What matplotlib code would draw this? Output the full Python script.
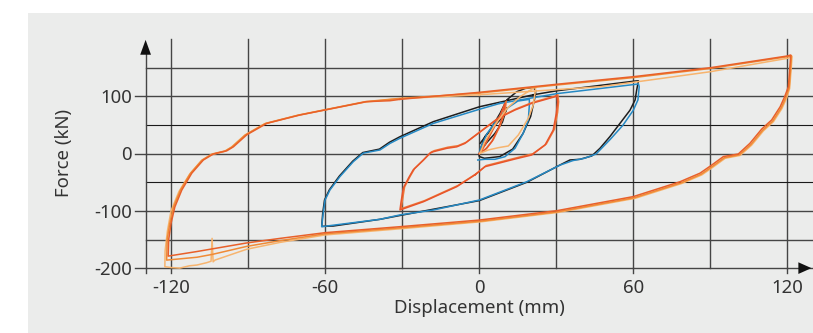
import matplotlib
matplotlib.use("Agg")
import matplotlib.pyplot as plt
from matplotlib.patches import Polygon

plt.rcParams['font.family'] = ['Noto Sans', 'DejaVu Sans']
NA = float('nan')  # gap between separate cycles of one test

# ---------------- data (displacement mm, force kN) ----------------
x_ticks = [-120, -60, 0, 60, 120]
y_ticks = [100, 0, -100, -200]
x_grid = [-120, -90, -60, -30, 0, 30, 60, 90, 120]
y_grid = [150, 100, 50, 0, -50, -100, -150]

# large +-120 mm loops (three cycles)
big1_x = [-30.9, 0, 30, 60, 90, 120, 121.3, 121.2, 120.8, 120.4, 119, 117.2, 113.9, 110, 105.4,
          100.9, 95.1, 90.5, 86, 78.2, 60, 30.2, 0, -30.9, -60, -77.6, -90.6, -110, -121.2,
          -121, -120.1, -118.6, -115.9, -112, -107.5, -103.6, -98.4, -95.8, -90.6, -82.8,
          -69.9, -56.9, -43.9, -34.8, -30.9]
big1_y = [95, 107.3, 121.3, 134.6, 150.3, 170.8, 172.5, 164, 140, 117, 100, 82, 59, 43, 18,
          -0.5, -5, -20, -34, -49, -75, -99.6, -116, -127.6, -138, -148, -156, -171, -179,
          -150, -122, -93, -63.5, -34, -11, -0.5, 5, 12, 33, 53,
          67.6, 79.3, 91, 92.6, 95]

big2_x = [0, 30, 60, 90, 120, 121.6, 121.5, 121.1, 120.7, 119.4, 117.6, 114.3, 110.4, 105.8,
          101.3, 95.5, 90.9, 86.4, 78.6, 60.4, 30.6, 0.4, -30.5, -60, -77.6, -90.6, -104, -110,
          -121.8, -121.6, -120.6, -119.1, -116.4, -112.5, -108, -104.1, -98.9, -96.3, -91.1,
          -83.3, -70.4, -57.4, -44.4, -31.4, 0]
big2_y = [106, 120, 133, 149, 169.5, 171.5, 162, 138, 115, 98, 80, 57, 41, 16,
          -2, -7, -22, -36, -51, -77, -101.5, -118, -129.5, -140, -152, -162, -176, -181,
          -186, -150, -122, -93, -63.5, -34, -11, -0.5, 5, 12, 33,
          53, 67.6, 79.3, 91, 96.5, 106]

big3_x = [0.3, 3.5, 7.4, 11.3, 15.2, 19.1, 21, 21.7, 22, 16, 11, 6, 2, 0.3, NA,
          0, 30, 47, 60, 90, 120, 121.8, 121.7, 121.3,
          120.9, 119.7, 117.9, 114.6, 110.7, 106.1, 101.6, 95.8, 91.2, 86.7, 78.9, 60.7, 30.9,
          0.7, -30.2, -60, -77.6, -90.6, -103, -103.7, -104.1, -104.5, -106.2, -110, -113,
          -116.7, -120, -122.5, -122.4, -121.5, -120.1, -117, -113, -108.4, -104.5, -99.3,
          -96.7, -91.5, -83.7, -70.8, -57.8, -44.8, -31.8, 0]
big3_y = [0.7, 6.5, 10.5, 13.5, 32.7, 62, 85, 105.6, 117, 100, 80, 50, 20, 0.7, NA,
          103, 112, 117, 124.8, 143.3, 166.7, 170, 161,
          137, 114, 97, 79, 56, 40, 15, -3, -8, -23, -37, -52, -78, -102.5, -119, -131,
          -142, -155, -167, -186, -189, -148, -188, -190.5, -194.6, -196, -200, -199, -197.5,
          -170, -135, -100, -66, -37, -13, -2, 4, 11, 32, 52, 67, 78.5, 90, 96, 103]

# +-60 mm loops
blue_x = [0, 0.5, 3, 7, 11, 15, 19.5, 19.5, 19.1, 17.1, 13.9, 10, 6.1, 2.2, -0.6, NA,
          8.1, 30.2, 60.4, 62, 62.3, 61.8, 60, 56, 51, 45.5, 41, 36.5, 31.4, 18.5, 0, -17.9,
          -30.9, -38.7, -56.9, -61.4, -60.8, -60.1, -58.2, -54.3, -49.1, -45.2, -38.7, -34.8,
          -30.9, -17.9, 0, 8.1]
blue_y = [0, 10, 35, 60, 80, 92, 95, 85, 59, 35.7, 9.4, -5.2, -9.8, -9.8, -11, NA,
          88, 105, 121, 122, 117, 94, 76, 50, 25, -0.5, -8, -12, -20, -49, -81, -98.4,
          -107, -114.7, -125, -127.6, -104, -81, -63.5, -40, -14, 1, 6.5, 18,
          27, 53, 77.6, 88]

black_x = [0, 0.2, 2.2, 6.1, 9.4, 10.7, 9, 6, 3, 0.5, 0, NA,
           0.3, 4.2, 8.1, 10.7, 14.6, 17.8, 21, 22, 21.5, 20, 17, 13, 8, 2, 0, NA,
           21, 30.2, 60.7, 62, 61.3, 60.7, 58.7, 54.8, 50.9,
           47, 43.8, 39.2, 35.3, 31.4, 18.5, 0, -30.9, -38.7, -56.9, -61.4, -61, -60.3,
           -58.4, -54.5, -49.3, -45.4, -38.9, -35, -30.9, -17.9, 0, 21]
black_y = [-2, 5, 30, 50, 65, 80, 55, 35, 20, 5, -2, NA,
           18, 41, 70.6, 94, 108.4, 114, 116, 110, 95, 65, 35, 8, -5, -8, -5, NA,
           103, 110, 127, 127.5, 111, 94, 76, 53, 30,
           9.4, -4, -9.8, -11, -19.8, -50, -82, -108, -114.7, -126.4, -127, -104, -81,
           -63, -39, -13, 2, 8, 20, 29.7, 56, 82, 103]

# +-30 mm loops
red_x = [0, 2, 5, 8, 10, 9.5, 7.5, 5, 2.5, 0, NA,
         -1.7, -8.8, -21.8, -30.9, -30.5, -29.6, -27.5,
         -25.7, -22, -19.2, -17.9, -12.7, -8.8, -5.6, 0.3, 7.4, 13.9, 20.4, 29.5, 30.2, 30.5,
         30, 28.8, 25.6, 20.4, 13.9, 7.4, 2.2, -1.7]
red_y = [0, 15, 40, 65, 88, 70, 45, 22, 8, 0, NA,
         -37, -57.7, -84, -98.4, -85, -60, -42,
         -28, -12, 1, 3.5, 9.4, 12, 18, 38, 62, 76.4, 88, 99.6, 102, 90,
         70.6, 41.4, 15.2, -2.3, -9.3, -16.8, -22.7, -37]

red2_x = [0.5, 2.5, 5.5, 8.5, 10.5, 10, 8, 5.5, 3, 0.5, NA,
          -1.2, -8.3, -21.3, -30.4, -30, -29.1,
          -27, -25.2, -21.5, -18.7, -17.4, -12.2, -8.3, -5.1, 0.8, 7.9, 14.4, 20.9, 29.8, 30.6,
          30.9, 30.5, 29.3, 26.1, 20.9, 14.4, 7.9, 2.7, -1.2]
red2_y = [2, 18, 44, 70, 92, 72, 48, 25, 10, 2, NA,
          -35, -55.5, -82, -96, -83, -58, -40,
          -26, -10, 3, 5.5, 11.4, 14, 20, 40, 64, 78.4, 90, 101, 103, 91,
          72, 43, 17, 0, -7.3, -14.8, -20.7, -35]

# ---------------- figure ----------------
W, H = 813, 333
fig = plt.figure(figsize=(W / 100, H / 100), dpi=100)
fig.patch.set_facecolor('white')
bg = fig.add_axes([28 / W, 0, 1 - 28 / W, (H - 13) / H], zorder=-10)
bg.set_facecolor('#ebeceb')
bg.set_xticks([])
bg.set_yticks([])
for s in bg.spines.values():
    s.set_visible(False)

ax_left, ax_right = 145.6, 813.0
ax_top, ax_bot = 30.7, 276.7
ax = fig.add_axes([ax_left / W, (H - ax_bot) / H, (ax_right - ax_left) / W, (ax_bot - ax_top) / H],
                  zorder=1)
ax.set_xlim(-130, 130)
ax.set_ylim(-215, 215)
ax.patch.set_alpha(0)
for s in ax.spines.values():
    s.set_visible(False)
ax.set_xticks([])
ax.set_yticks([])

grid_c = '#454545'
for gx in x_grid:
    ax.plot([gx, gx], [-200, 200], color=grid_c, lw=1.0, zorder=1, clip_on=False)
for gy in y_grid:
    c, w = ('#1a1a1a', 0.8) if gy in (50, -50) else (grid_c, 1.0)
    ax.plot([-130, 130], [gy, gy], color=c, lw=w, zorder=1, clip_on=False)
# x axis
ax.plot([-130, 130], [-200, -200], color=grid_c, lw=1.0, zorder=1, clip_on=False)
# y axis
ax.plot([-130, -130], [-208.5, 178], color=grid_c, lw=1.0, zorder=1, clip_on=False)
ax.add_patch(Polygon([(-132.1, 173), (-127.9, 173), (-130, 199)], closed=True,
                     facecolor='#111111', edgecolor='none', zorder=5, clip_on=False))
ax.add_patch(Polygon([(124.3, -210.2), (124.3, -189.8), (129.4, -200)], closed=True,
                     facecolor='#111111', edgecolor='none', zorder=5, clip_on=False))

txt_c = '#333333'
fs = 13.4
for t in y_ticks:
    ax.plot([-134.1, -130], [t, t], color=grid_c, lw=1.0, clip_on=False, zorder=1)
    ax.text(-135.3, t - 3, f"{t}", ha='right', va='center', fontsize=fs, color=txt_c)
for t in x_ticks:
    ax.plot([t, t], [-200, -208.5], color=grid_c, lw=1.0, clip_on=False, zorder=1)
    ax.text(t, -243.5, f"{t}", ha='center', va='baseline', fontsize=fs, color=txt_c)

fig.text(64 / W, 1 - 153 / H, 'Force (kN)', rotation=90, ha='center', va='center',
         fontsize=fs, color=txt_c)
fig.text(479 / W, 1 - 308 / H, 'Displacement (mm)', ha='center', va='center',
         fontsize=fs, color=txt_c)

lw = 1.1
ax.plot(black_x, black_y, color='#1e1e1e', lw=lw, zorder=3)
ax.plot(blue_x, blue_y, color='#2589c4', lw=lw, zorder=3)
ax.plot(red2_x, red2_y, color='#f07a3a', lw=lw, zorder=3)
ax.plot(red_x, red_y, color='#e8552b', lw=lw, zorder=3)
ax.plot(big3_x, big3_y, color='#f7b46e', lw=lw, zorder=3)
ax.plot(big2_x, big2_y, color='#f08a35', lw=lw, zorder=3)
ax.plot(big1_x, big1_y, color='#e8602a', lw=lw, zorder=3)

fig.savefig('out.png', dpi=100)
